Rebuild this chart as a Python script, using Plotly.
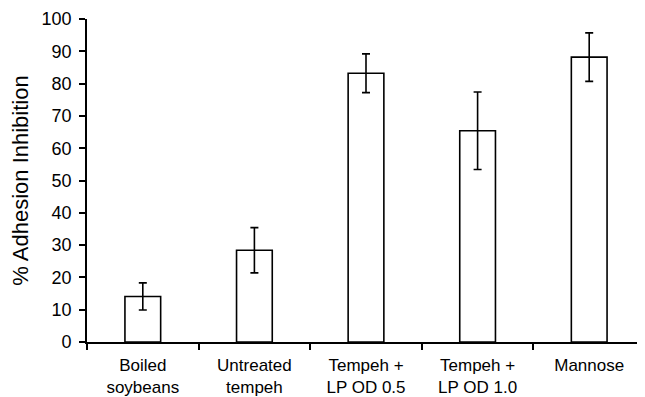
import plotly.graph_objects as go

categories = ["Boiled<br>soybeans", "Untreated<br>tempeh", "Tempeh +<br>LP OD 0.5",
              "Tempeh +<br>LP OD 1.0", "Mannose"]
values = [14.1, 28.4, 83.2, 65.4, 88.2]
errors = [4.2, 7.0, 6.0, 12.0, 7.5]
y_ticks = [0, 10, 20, 30, 40, 50, 60, 70, 80, 90, 100]

fig = go.Figure(go.Bar(
    x=categories, y=values, width=0.32,
    marker=dict(color="white", line=dict(color="black", width=1.6)),
    error_y=dict(type="data", array=errors, visible=True,
                 color="black", thickness=1.6, width=4),
))

font = "Liberation Sans, Arial, sans-serif"
# page body has an 8px default margin, so the figure is sized to fit inside it
fig.update_layout(
    width=637, height=389,
    margin=dict(l=79, r=0, t=11, b=55),
    paper_bgcolor="white", plot_bgcolor="white",
    showlegend=False,
    font=dict(family=font, size=17, color="black"),
)
fig.update_xaxes(
    automargin=False,
    showline=True, linecolor="black", linewidth=1.6,
    ticks="outside", tickson="boundaries", ticklen=6, tickwidth=1.6, tickcolor="black",
    showgrid=False, tickfont=dict(size=17),
    ticklabelstandoff=7,
)
fig.update_yaxes(
    automargin=False,
    range=[0, 100], tickvals=y_ticks,
    showline=True, linecolor="black", linewidth=1.6,
    ticks="outside", ticklen=6, tickwidth=1.6, tickcolor="black",
    showgrid=False, zeroline=False, tickfont=dict(size=18),
    ticklabelstandoff=4,
    title=dict(text="% Adhesion Inhibition", font=dict(size=22), standoff=10),
)
fig.write_html("out.html")
